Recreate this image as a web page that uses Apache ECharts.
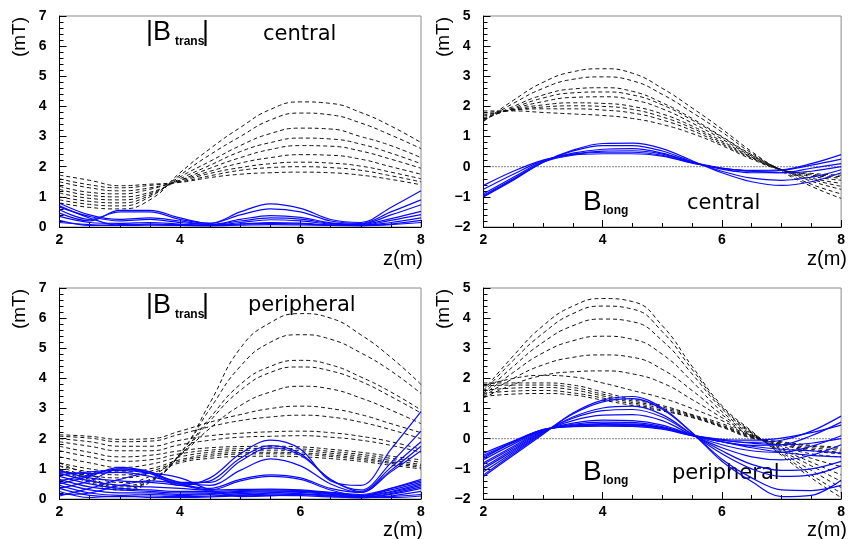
<!DOCTYPE html>
<html>
<head>
<meta charset="utf-8">
<script src="https://cdn.jsdelivr.net/npm/echarts@6/dist/echarts.min.js"></script>
<style>
  html, body { margin: 0; padding: 0; background: #fff; }
  #chart { width: 848px; height: 539px; }
</style>
</head>
<body>
<div id="chart"></div>
<script>
// Sample positions along z (m)
const zSamples = [2, 2.5, 3, 3.5, 4, 4.5, 5, 5.5, 6, 6.5, 7, 7.5, 8];

// |B_trans|, central — dashed family (mT)
const bTransCentralDashed = [
  [0.80, 0.65, 0.60, 0.90, 1.80, 2.60, 3.30, 3.90, 4.15, 4.10, 3.80, 3.35, 2.80],
  [0.90, 0.75, 0.70, 1.00, 1.72, 2.40, 3.00, 3.55, 3.78, 3.72, 3.45, 3.05, 2.60],
  [1.00, 0.85, 0.80, 1.05, 1.66, 2.18, 2.70, 3.10, 3.28, 3.25, 3.00, 2.70, 2.30],
  [1.13, 0.95, 0.90, 1.10, 1.60, 2.05, 2.50, 2.80, 2.95, 2.92, 2.75, 2.45, 2.10],
  [1.25, 1.05, 1.00, 1.15, 1.55, 1.95, 2.30, 2.57, 2.70, 2.68, 2.52, 2.25, 1.95],
  [1.35, 1.15, 1.10, 1.25, 1.55, 1.85, 2.12, 2.30, 2.40, 2.38, 2.25, 2.00, 1.75],
  [1.50, 1.30, 1.20, 1.30, 1.52, 1.78, 1.97, 2.10, 2.15, 2.12, 2.02, 1.82, 1.60],
  [1.60, 1.40, 1.30, 1.38, 1.50, 1.70, 1.88, 1.97, 2.00, 1.97, 1.88, 1.70, 1.50],
  [1.72, 1.55, 1.37, 1.42, 1.48, 1.64, 1.75, 1.80, 1.82, 1.80, 1.72, 1.58, 1.40]
];
// |B_trans|, central — solid family (mT)
const bTransCentralSolid = [
  [0.46, 0.20, 0.55, 0.55, 0.30, 0.12, 0.50, 0.77, 0.62, 0.25, 0.15, 0.65, 1.20],
  [0.57, 0.25, 0.50, 0.50, 0.25, 0.12, 0.40, 0.60, 0.50, 0.20, 0.12, 0.50, 0.90],
  [0.79, 0.40, 0.25, 0.30, 0.20, 0.08, 0.25, 0.38, 0.32, 0.14, 0.10, 0.40, 0.74],
  [0.66, 0.35, 0.20, 0.25, 0.15, 0.08, 0.20, 0.30, 0.26, 0.12, 0.08, 0.28, 0.52],
  [0.35, 0.15, 0.12, 0.15, 0.10, 0.05, 0.15, 0.24, 0.20, 0.10, 0.06, 0.22, 0.41],
  [0.22, 0.05, 0.08, 0.10, 0.07, 0.05, 0.10, 0.15, 0.13, 0.07, 0.05, 0.15, 0.30],
  [0.15, 0.08, 0.05, 0.06, 0.05, 0.04, 0.06, 0.08, 0.07, 0.05, 0.04, 0.10, 0.22],
  [0.70, 0.30, 0.05, 0.10, 0.08, 0.06, 0.10, 0.12, 0.10, 0.06, 0.05, 0.08, 0.15]
];

// B_long, central — dashed family (mT)
const bLongCentralDashed = [
  [1.50, 2.20, 2.80, 3.15, 3.25, 3.10, 2.60, 1.95, 1.25, 0.50, -0.15, -0.65, -1.05],
  [1.52, 2.10, 2.60, 2.90, 2.98, 2.85, 2.40, 1.80, 1.15, 0.45, -0.12, -0.58, -0.90],
  [1.55, 2.00, 2.38, 2.58, 2.62, 2.50, 2.12, 1.60, 1.00, 0.40, -0.10, -0.48, -0.75],
  [1.58, 1.95, 2.28, 2.45, 2.48, 2.38, 2.05, 1.55, 0.98, 0.38, -0.10, -0.42, -0.65],
  [1.62, 1.92, 2.16, 2.30, 2.32, 2.22, 1.92, 1.45, 0.92, 0.35, -0.10, -0.38, -0.55],
  [1.68, 1.90, 2.05, 2.12, 2.10, 2.00, 1.75, 1.35, 0.85, 0.32, -0.10, -0.32, -0.45],
  [1.72, 1.88, 1.98, 2.02, 2.00, 1.90, 1.65, 1.28, 0.80, 0.30, -0.10, -0.28, -0.38],
  [1.78, 1.88, 1.92, 1.92, 1.88, 1.78, 1.55, 1.20, 0.75, 0.28, -0.10, -0.25, -0.33],
  [1.85, 1.85, 1.80, 1.75, 1.70, 1.60, 1.40, 1.10, 0.70, 0.25, -0.10, -0.22, -0.28]
];
// B_long, central — solid family (mT)
const bLongCentralSolid = [
  [-1.00, -0.45, 0.15, 0.55, 0.77, 0.78, 0.60, 0.20, -0.20, -0.50, -0.62, -0.50, -0.20],
  [-0.98, -0.42, 0.15, 0.52, 0.70, 0.70, 0.52, 0.17, -0.15, -0.38, -0.45, -0.35, -0.10],
  [-0.90, -0.35, 0.18, 0.45, 0.58, 0.60, 0.45, 0.15, -0.08, -0.20, -0.20, -0.05, 0.10],
  [-0.75, -0.25, 0.20, 0.42, 0.52, 0.53, 0.42, 0.15, -0.05, -0.15, -0.12, 0.05, 0.25],
  [-0.62, -0.15, 0.22, 0.40, 0.48, 0.48, 0.38, 0.13, -0.05, -0.12, -0.10, 0.10, 0.40],
  [-0.95, -0.40, 0.15, 0.38, 0.43, 0.43, 0.35, 0.12, -0.05, -0.15, -0.20, -0.15, 0.00]
];

// |B_trans|, peripheral — dashed family (mT)
const bTransPeripheralDashed = [
  [1.00, 0.65, 0.40, 0.60, 1.50, 3.20, 5.00, 5.85, 6.15, 6.00, 5.45, 4.70, 3.80],
  [0.95, 0.60, 0.35, 0.60, 1.50, 3.00, 4.40, 5.20, 5.45, 5.30, 4.85, 4.25, 3.50],
  [0.90, 0.55, 0.30, 0.55, 1.45, 2.70, 3.80, 4.40, 4.60, 4.45, 4.05, 3.55, 2.95],
  [1.10, 0.70, 0.45, 0.65, 1.45, 2.60, 3.60, 4.20, 4.38, 4.25, 3.90, 3.40, 2.85],
  [1.20, 0.80, 0.55, 0.75, 1.45, 2.35, 3.10, 3.55, 3.74, 3.65, 3.35, 2.95, 2.50],
  [2.13, 2.08, 1.98, 2.00, 2.25, 2.55, 2.80, 3.00, 3.08, 3.00, 2.80, 2.50, 2.20],
  [2.08, 2.02, 1.90, 1.92, 2.15, 2.40, 2.60, 2.72, 2.78, 2.72, 2.55, 2.30, 2.00],
  [2.00, 1.90, 1.75, 1.75, 1.95, 2.10, 2.18, 2.23, 2.25, 2.20, 2.08, 1.90, 1.65],
  [1.90, 1.75, 1.60, 1.60, 1.80, 1.95, 2.05, 2.08, 2.10, 2.05, 1.95, 1.78, 1.55],
  [1.75, 1.55, 1.40, 1.45, 1.60, 1.70, 1.74, 1.75, 1.73, 1.65, 1.55, 1.42, 1.30],
  [1.60, 1.40, 1.25, 1.30, 1.50, 1.62, 1.67, 1.68, 1.66, 1.58, 1.48, 1.35, 1.22],
  [1.40, 1.20, 1.05, 1.15, 1.40, 1.55, 1.61, 1.62, 1.60, 1.52, 1.42, 1.28, 1.15],
  [1.20, 1.00, 0.90, 1.00, 1.30, 1.48, 1.54, 1.55, 1.53, 1.46, 1.36, 1.22, 1.10],
  [1.10, 0.90, 0.80, 0.92, 1.25, 1.42, 1.49, 1.50, 1.48, 1.41, 1.31, 1.18, 1.05],
  [0.95, 0.78, 0.70, 0.85, 1.20, 1.35, 1.41, 1.42, 1.40, 1.34, 1.25, 1.12, 1.00]
];
// |B_trans|, peripheral — solid family (mT)
const bTransPeripheralSolid = [
  [0.35, 0.60, 1.00, 0.85, 0.45, 0.70, 1.50, 1.95, 1.65, 0.60, 0.45, 1.65, 2.90],
  [0.50, 0.75, 1.05, 0.90, 0.50, 0.60, 1.35, 1.77, 1.50, 0.65, 0.30, 1.20, 2.25],
  [0.60, 0.80, 1.00, 0.90, 0.55, 0.55, 1.25, 1.70, 1.45, 0.65, 0.25, 1.05, 1.90],
  [0.80, 0.90, 0.95, 0.85, 0.55, 0.45, 0.95, 1.33, 1.10, 0.50, 0.22, 0.95, 1.75],
  [0.90, 0.85, 0.88, 0.75, 0.50, 0.35, 0.65, 0.80, 0.70, 0.35, 0.22, 0.90, 1.60],
  [0.95, 0.70, 0.60, 0.55, 0.45, 0.30, 0.60, 0.75, 0.65, 0.30, 0.10, 0.35, 0.65],
  [0.85, 0.60, 0.45, 0.40, 0.35, 0.30, 0.32, 0.33, 0.30, 0.22, 0.15, 0.35, 0.60],
  [0.75, 0.50, 0.35, 0.30, 0.25, 0.25, 0.28, 0.30, 0.28, 0.20, 0.12, 0.30, 0.55],
  [0.65, 0.40, 0.30, 0.25, 0.20, 0.20, 0.25, 0.27, 0.25, 0.17, 0.10, 0.25, 0.50],
  [0.55, 0.30, 0.20, 0.20, 0.15, 0.18, 0.22, 0.24, 0.22, 0.15, 0.08, 0.22, 0.45],
  [0.45, 0.20, 0.12, 0.15, 0.12, 0.15, 0.18, 0.20, 0.18, 0.12, 0.06, 0.18, 0.40],
  [0.35, 0.12, 0.08, 0.10, 0.08, 0.10, 0.14, 0.16, 0.15, 0.10, 0.05, 0.15, 0.35],
  [0.25, 0.05, 0.10, 0.05, 0.05, 0.07, 0.10, 0.12, 0.11, 0.07, 0.04, 0.10, 0.25],
  [0.15, 0.20, 0.45, 0.60, 0.50, 0.25, 0.12, 0.20, 0.25, 0.20, 0.10, 0.05, 0.10],
  [0.10, 0.35, 0.65, 0.85, 0.70, 0.30, 0.08, 0.10, 0.15, 0.10, 0.05, 0.08, 0.15]
];

// B_long, peripheral — dashed family (mT)
const bLongPeripheralDashed = [
  [1.60, 2.75, 3.75, 4.40, 4.65, 4.55, 3.75, 2.40, 1.10, 0.25, -0.55, -1.30, -1.95],
  [1.55, 2.60, 3.50, 4.15, 4.40, 4.30, 3.55, 2.30, 1.05, 0.22, -0.50, -1.20, -1.80],
  [1.50, 2.40, 3.20, 3.75, 3.97, 3.88, 3.25, 2.15, 1.00, 0.20, -0.45, -1.05, -1.62],
  [1.45, 2.20, 2.85, 3.25, 3.40, 3.30, 2.80, 1.90, 0.90, 0.18, -0.40, -0.90, -1.42],
  [1.40, 2.00, 2.45, 2.70, 2.78, 2.70, 2.30, 1.60, 0.80, 0.15, -0.35, -0.78, -1.20],
  [1.35, 1.80, 2.10, 2.22, 2.25, 2.15, 1.85, 1.30, 0.70, 0.12, -0.30, -0.65, -0.92],
  [1.75, 2.00, 2.10, 2.05, 1.85, 1.60, 1.35, 1.00, 0.60, 0.10, -0.25, -0.50, -0.60],
  [1.85, 1.85, 1.85, 1.78, 1.55, 1.30, 1.10, 0.80, 0.50, 0.10, -0.20, -0.40, -0.50],
  [1.75, 1.78, 1.78, 1.70, 1.48, 1.25, 1.05, 0.78, 0.45, 0.08, -0.18, -0.35, -0.45],
  [1.60, 1.68, 1.70, 1.62, 1.42, 1.20, 1.00, 0.75, 0.42, 0.06, -0.15, -0.30, -0.38],
  [1.50, 1.58, 1.60, 1.52, 1.35, 1.15, 0.95, 0.72, 0.40, 0.04, -0.12, -0.25, -0.32],
  [1.40, 1.48, 1.50, 1.45, 1.28, 1.10, 0.92, 0.70, 0.38, 0.02, -0.10, -0.22, -0.28]
];
// B_long, peripheral — solid family (mT)
const bLongPeripheralSolid = [
  [-1.25, -0.55, 0.15, 0.85, 1.28, 1.40, 1.02, 0.20, -0.75, -1.42, -1.92, -1.88, -1.38],
  [-1.20, -0.50, 0.18, 0.82, 1.22, 1.33, 0.98, 0.20, -0.68, -1.30, -1.70, -1.72, -1.55],
  [-1.10, -0.45, 0.20, 0.72, 1.02, 1.08, 0.80, 0.15, -0.50, -1.00, -1.25, -1.20, -0.90],
  [-1.00, -0.40, 0.22, 0.68, 0.93, 0.97, 0.72, 0.15, -0.40, -0.85, -1.05, -1.00, -0.75],
  [-0.95, -0.35, 0.24, 0.60, 0.78, 0.80, 0.60, 0.12, -0.30, -0.60, -0.70, -0.55, -0.20],
  [-0.85, -0.30, 0.26, 0.52, 0.62, 0.60, 0.45, 0.12, -0.20, -0.40, -0.45, -0.25, 0.10],
  [-0.80, -0.25, 0.28, 0.48, 0.55, 0.54, 0.40, 0.12, -0.10, -0.22, -0.20, 0.10, 0.55],
  [-0.70, -0.18, 0.28, 0.45, 0.50, 0.49, 0.37, 0.12, -0.05, -0.12, -0.05, 0.25, 0.75],
  [-0.60, -0.12, 0.30, 0.42, 0.46, 0.45, 0.35, 0.12, -0.02, -0.05, 0.02, 0.20, 0.45],
  [-0.48, -0.08, 0.30, 0.40, 0.42, 0.41, 0.32, 0.10, -0.05, -0.15, -0.20, -0.15, 0.00],
  [-0.65, -0.12, 0.28, 0.44, 0.48, 0.47, 0.36, 0.12, -0.10, -0.25, -0.35, -0.40, -0.48],
  [-0.55, -0.10, 0.30, 0.42, 0.45, 0.44, 0.34, 0.10, -0.10, -0.30, -0.45, -0.55, -0.60]
];

// Axis ranges
const zRange = [2, 8];
const transRange = [0, 7];
const longRange = [-2, 5];

// Panel layout: [left, top] of each plotting frame, in px
const PANEL_W = 361.5, PANEL_H = 211;
const panels = [
  { left: 59.5,  top: 16,  range: transRange, dashed: bTransCentralDashed,    solid: bTransCentralSolid,    zeroLine: false },
  { left: 483.5, top: 16,  range: longRange,  dashed: bLongCentralDashed,     solid: bLongCentralSolid,     zeroLine: true },
  { left: 59.5,  top: 288, range: transRange, dashed: bTransPeripheralDashed, solid: bTransPeripheralSolid, zeroLine: false },
  { left: 483.5, top: 288, range: longRange,  dashed: bLongPeripheralDashed,  solid: bLongPeripheralSolid,  zeroLine: true }
];

const LABEL_FONT = '"Liberation Sans", Arial, sans-serif';
const TITLE_FONT = '"DejaVu Sans", sans-serif';

const grid = [], xAxis = [], yAxis = [], series = [];

panels.forEach((p, gi) => {
  grid.push({
    left: p.left, top: p.top, width: PANEL_W, height: PANEL_H,
    show: true, borderColor: '#8a8a8a', borderWidth: 1, backgroundColor: 'transparent'
  });
  xAxis.push({
    type: 'value', gridIndex: gi, min: zRange[0], max: zRange[1], interval: 2,
    axisLine: { show: true, onZero: false, lineStyle: { color: '#000', width: 1 } },
    axisTick: { show: true, inside: true, length: 7, lineStyle: { color: '#000' } },
    minorTick: { show: true, splitNumber: 4, length: 4, lineStyle: { color: '#000' } },
    splitLine: { show: false },
    axisLabel: { margin: 6, color: '#000', fontFamily: LABEL_FONT, fontWeight: 'bold', fontSize: 14 }
  });
  yAxis.push({
    type: 'value', gridIndex: gi, min: p.range[0], max: p.range[1], interval: 1,
    axisLine: { show: true, onZero: false, lineStyle: { color: '#000', width: 1 } },
    axisTick: { show: true, inside: true, length: 7, lineStyle: { color: '#000' } },
    minorTick: { show: true, splitNumber: 5, length: 4, lineStyle: { color: '#000' } },
    splitLine: { show: false },
    axisLabel: {
      margin: 13, color: '#000', fontFamily: LABEL_FONT, fontWeight: 'bold', fontSize: 14,
      formatter: v => String(v).replace('-', '\u2212')
    }
  });

  if (p.zeroLine) {
    series.push({
      type: 'line', xAxisIndex: gi, yAxisIndex: gi, silent: true, symbol: 'none',
      data: [[zRange[0], 0], [zRange[1], 0]],
      lineStyle: { color: '#000', width: 1, type: [1, 2] }, z: 1
    });
  }
  p.dashed.forEach(vals => {
    series.push({
      type: 'line', xAxisIndex: gi, yAxisIndex: gi, silent: true, symbol: 'none',
      smooth: 0.5, clip: true,
      data: zSamples.map((z, i) => [z, vals[i]]),
      lineStyle: { color: '#111', width: 1, type: [4, 3] }, z: 2
    });
  });
  p.solid.forEach(vals => {
    series.push({
      type: 'line', xAxisIndex: gi, yAxisIndex: gi, silent: true, symbol: 'none',
      smooth: 0.35, clip: true,
      data: zSamples.map((z, i) => [z, vals[i]]),
      lineStyle: { color: '#0a0aff', width: 1.2 }, z: 3
    });
  });
});

// Text annotations: axis units and panel captions.
// (x, baseline) positions; the middle of the em box sits ~0.35em above the baseline.
function txt(x, base, text, size, family, opts) {
  opts = opts || {};
  const rot = opts.rotation || 0;
  const y = opts.center ? base : base - 0.35 * size;
  return {
    type: 'text', x: x, y: y, rotation: rot, silent: true,
    style: {
      text: text, fill: '#000',
      font: (opts.weight || 'normal') + ' ' + size + 'px ' + family,
      align: opts.align || 'left', verticalAlign: 'middle'
    }
  };
}

const graphic = [
  // (mT) rotated labels, centred on the given point
  txt(20, 37, '(mT)', 19, LABEL_FONT, { rotation: Math.PI / 2, center: true, align: 'center' }),
  txt(444, 37, '(mT)', 19, LABEL_FONT, { rotation: Math.PI / 2, center: true, align: 'center' }),
  txt(20, 309, '(mT)', 19, LABEL_FONT, { rotation: Math.PI / 2, center: true, align: 'center' }),
  txt(444, 309, '(mT)', 19, LABEL_FONT, { rotation: Math.PI / 2, center: true, align: 'center' }),
  // z(m) labels
  txt(423, 266, 'z(m)', 20, LABEL_FONT, { align: 'right' }),
  txt(847, 266, 'z(m)', 20, LABEL_FONT, { align: 'right' }),
  txt(423, 537, 'z(m)', 20, LABEL_FONT, { align: 'right' }),
  txt(847, 537, 'z(m)', 20, LABEL_FONT, { align: 'right' }),
  // |B_trans| central
  txt(146, 42, '|B', 27, LABEL_FONT),
  txt(175, 46, 'trans', 12, LABEL_FONT, { weight: 'bold' }),
  txt(202, 42, '|', 27, LABEL_FONT),
  txt(263, 42, 'central', 21, TITLE_FONT),
  // B_long central
  txt(583, 212, 'B', 28, LABEL_FONT),
  txt(603, 215, 'long', 12, LABEL_FONT, { weight: 'bold' }),
  txt(687, 211, 'central', 21, TITLE_FONT),
  // |B_trans| peripheral
  txt(146, 315, '|B', 27, LABEL_FONT),
  txt(175, 319, 'trans', 12, LABEL_FONT, { weight: 'bold' }),
  txt(202, 315, '|', 27, LABEL_FONT),
  txt(248, 313, 'peripheral', 21, TITLE_FONT),
  // B_long peripheral
  txt(583, 482, 'B', 28, LABEL_FONT),
  txt(603, 485, 'long', 12, LABEL_FONT, { weight: 'bold' }),
  txt(672, 481, 'peripheral', 21, TITLE_FONT)
];

const chart = echarts.init(document.getElementById('chart'), null, { renderer: 'canvas' });
chart.setOption({
  animation: false,
  backgroundColor: '#fff',
  grid: grid,
  xAxis: xAxis,
  yAxis: yAxis,
  series: series,
  graphic: graphic
});
</script>
</body>
</html>
